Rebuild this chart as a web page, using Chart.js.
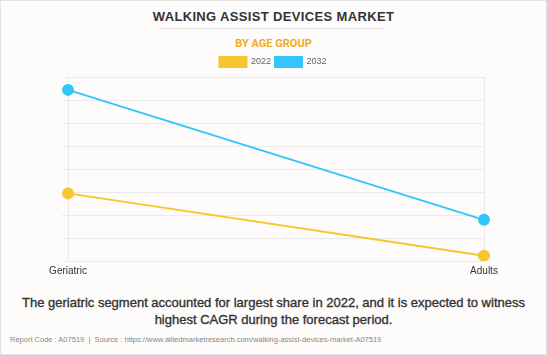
<!DOCTYPE html>
<html><head><meta charset="utf-8">
<script src="https://cdn.jsdelivr.net/npm/chart.js@4"></script>
<style>
html,body{margin:0;padding:0;}
body{width:547px;height:355px;background:#fdfcfb;position:relative;overflow:hidden;font-family:"Liberation Sans",Arial,sans-serif;}
#frame{position:absolute;left:0;top:0;width:545px;height:353px;border:1px solid #e2e2e2;}
#title{position:absolute;left:0;width:547px;top:9px;text-align:center;font-weight:bold;font-size:13px;color:#333;letter-spacing:0.35px;}
#rule{position:absolute;left:161px;width:224px;top:28px;height:1px;background:#ddd;}
#sub{position:absolute;left:0;width:547px;top:37px;text-align:center;font-weight:bold;font-size:11px;color:#f7a823;font-family:Roboto,sans-serif;}
#wrap{position:absolute;left:0;top:53px;width:547px;height:228px;}
#cap{position:absolute;left:0;width:547px;top:294px;text-align:center;font-size:13px;color:#333;line-height:17px;-webkit-text-stroke:0.35px #333;}
#foot{position:absolute;left:10px;top:335px;font-size:7.5px;color:#888;}
</style></head>
<body>
<div id="frame"></div>
<div id="title">WALKING ASSIST DEVICES MARKET</div>
<div id="rule"></div>
<div id="sub">BY AGE GROUP</div>
<div id="wrap"><canvas id="c" width="547" height="228"></canvas></div>
<div id="cap">The geriatric segment accounted for largest share in 2022, and it is expected to witness<br>highest CAGR during the forecast period.</div>
<div id="foot">Report Code : A07519 &nbsp;|&nbsp; Source : https://www.alliedmarketresearch.com/walking-assist-devices-market-A07519</div>
<script>
const categories = ["Geriatric", "Adults"];
const series2022 = [2.94, 0.23];
const series2032 = [7.44, 1.79];
const seriesLabels = ["2022", "2032"];

new Chart(document.getElementById('c'), {
  type: 'line',
  data: {
    labels: categories,
    datasets: [
      {label: seriesLabels[0], data: series2022, borderColor: '#f7c52f', backgroundColor: '#f7c52f', borderWidth: 2, pointRadius: 5, pointHoverRadius: 5, tension: 0},
      {label: seriesLabels[1], data: series2032, borderColor: '#33c5fb', backgroundColor: '#33c5fb', borderWidth: 2, pointRadius: 5, pointHoverRadius: 5, tension: 0}
    ]
  },
  options: {
    responsive: false,
    animation: false,
    layout: {padding: {left: 62, right: 63, top: 0, bottom: 0}},
    plugins: {
      legend: {
        display: true,
        labels: {boxWidth: 27, boxHeight: 10, padding: 4, color: '#666', font: {size: 9, family: 'Liberation Sans'}}
      },
      tooltip: {enabled: false}
    },
    scales: {
      x: {
        offset: false,
        grid: {color: '#e9e9e9', drawTicks: false},
        border: {display: false},
        ticks: {color: '#333', font: {size: 10, family: 'Liberation Sans'}, padding: 4, maxRotation: 0}
      },
      y: {
        min: 0, max: 8,
        grid: {color: '#eaeaea', tickLength: 6},
        border: {display: false},
        ticks: {display: false, stepSize: 1}
      }
    }
  }
});
</script>
</body></html>
